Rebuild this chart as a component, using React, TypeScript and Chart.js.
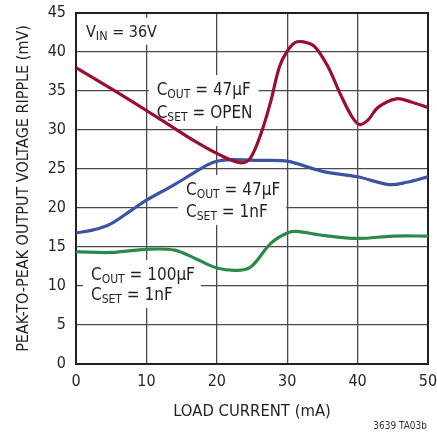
import React, { useEffect, useRef } from "react";
import { Chart, registerables } from "chart.js";

Chart.register(...registerables);

const FONT = "'DejaVu Sans Condensed', 'DejaVu Sans', sans-serif";

// COUT = 47µF, CSET = OPEN
const openX = [0, 5, 10, 14, 17, 20, 23.3, 24.7, 26.3, 27.7, 28.9, 30, 31.1, 32.3, 33.9, 35.8, 37.5, 39.2, 40.3, 41.5, 42.9, 45.5, 47.6, 50];
const openY = [38, 35.3, 32.5, 30.2, 28.5, 27, 25.8, 26.3, 29.6, 33.8, 38.1, 40.1, 41.2, 41.3, 40.7, 38.1, 34.7, 31.7, 30.7, 31.3, 32.9, 34, 33.6, 32.9];

// COUT = 47µF, CSET = 1nF
const c47X = [0, 2.5, 4.8, 7.7, 10, 13.8, 16.2, 18.6, 20, 22, 26, 30, 35, 40, 44.5, 47, 50];
const c47Y = [16.8, 17.2, 17.9, 19.6, 21, 22.9, 24.2, 25.5, 26, 26.2, 26.1, 26, 24.7, 24, 23, 23.3, 24];

// COUT = 100µF, CSET = 1nF
const c100X = [0, 5, 10, 14, 17, 20, 23, 24.9, 27.7, 30, 31.3, 35, 40, 45, 50];
const c100Y = [14.4, 14.3, 14.7, 14.6, 13.5, 12.3, 12, 12.5, 15.5, 16.8, 17, 16.5, 16.1, 16.4, 16.4];

const X_MIN = 0, X_MAX = 50, X_STEP = 10;
const Y_MIN = 0, Y_MAX = 45, Y_STEP = 5;

const X_TITLE = "LOAD CURRENT (mA)";
const Y_TITLE = "PEAK-TO-PEAK OUTPUT VOLTAGE RIPPLE (mV)";
const FOOT = "3639 TA03b";

const RED = "#9a0f30";
const BLUE = "#3a53a3";
const GREEN = "#2b8a48";
const INK = "#231f20";

type Seg = [string, string, string];
type Label = { x: number; y: number; size: number; sub: number; gap: number; lines: Seg[] };

const LABELS: Label[] = [
  { x: 1.42, y: 41.96, size: 16, sub: 12.5, gap: 22, lines: [["V", "IN", " = 36V"]] },
  { x: 11.46, y: 34.49, size: 17, sub: 12, gap: 23, lines: [["C", "OUT", " = 47µF"], ["C", "SET", " = OPEN"]] },
  { x: 15.63, y: 21.67, size: 17, sub: 12, gap: 22, lines: [["C", "OUT", " = 47µF"], ["C", "SET", " = 1nF"]] },
  { x: 2.13, y: 10.77, size: 17, sub: 12, gap: 20, lines: [["C", "OUT", " = 100µF"], ["C", "SET", " = 1nF"]] },
];

const pts = (xs: number[], ys: number[]) => xs.map((x, i) => ({ x, y: ys[i] }));

const annotPlugin = {
  id: "annot",
  beforeDatasetsDraw(chart: any) {
    const { ctx, chartArea, scales } = chart;
    const xs = scales.x, ys = scales.y;
    ctx.save();
    for (const lab of LABELS) {
      const px = xs.getPixelForValue(lab.x);
      const py = ys.getPixelForValue(lab.y);
      const widths = lab.lines.map(([a, b, c]) => {
        ctx.font = `${lab.size}px ${FONT}`;
        const wa = ctx.measureText(a).width;
        const wc = ctx.measureText(c).width;
        ctx.font = `${lab.sub}px ${FONT}`;
        const wb = ctx.measureText(b).width;
        return wa + wb + wc;
      });
      const maxW = Math.max(...widths);
      let left = px - 8;
      let top = py - lab.size - 3;
      const bottom = py + (lab.lines.length - 1) * lab.gap + 8;
      left = Math.max(left, chartArea.left);
      top = Math.max(top, chartArea.top);
      ctx.fillStyle = "#ffffff";
      ctx.fillRect(left, top, px + maxW + 6 - left, bottom - top);
      ctx.fillStyle = INK;
      ctx.textBaseline = "alphabetic";
      ctx.textAlign = "left";
      lab.lines.forEach(([a, b, c], i) => {
        const by = py + i * lab.gap;
        let cx = px;
        ctx.font = `${lab.size}px ${FONT}`;
        ctx.fillText(a, cx, by);
        cx += ctx.measureText(a).width;
        ctx.font = `${lab.sub}px ${FONT}`;
        ctx.fillText(b, cx, by + 3);
        cx += ctx.measureText(b).width;
        ctx.font = `${lab.size}px ${FONT}`;
        ctx.fillText(c, cx, by);
      });
    }
    ctx.strokeStyle = INK;
    ctx.lineWidth = 2;
    ctx.strokeRect(chartArea.left, chartArea.top, chartArea.right - chartArea.left, chartArea.bottom - chartArea.top);
    ctx.restore();
  },
  afterDraw(chart: any) {
    const { ctx } = chart;
    ctx.save();
    ctx.font = `10px ${FONT}`;
    ctx.fillStyle = "#333333";
    ctx.textAlign = "right";
    ctx.textBaseline = "alphabetic";
    ctx.fillText(FOOT, 427, 429);
    ctx.restore();
  },
};

export default function App() {
  const ref = useRef<HTMLCanvasElement>(null);
  useEffect(() => {
    if (!ref.current) return;
    const ds = (data: any, color: string) => ({
      data,
      borderColor: color,
      backgroundColor: color,
      borderWidth: 3.2,
      pointRadius: 0,
      tension: 0.35,
      fill: false,
    });
    const chart = new Chart(ref.current, {
      type: "line",
      data: {
        datasets: [
          ds(pts(openX, openY), RED),
          ds(pts(c47X, c47Y), BLUE),
          ds(pts(c100X, c100Y), GREEN),
        ],
      },
      options: {
        responsive: false,
        animation: false,
        layout: { padding: { top: 13, right: 9, left: 0, bottom: 0 } },
        plugins: { legend: { display: false }, tooltip: { enabled: false } },
        scales: {
          x: {
            type: "linear",
            min: X_MIN,
            max: X_MAX,
            ticks: { stepSize: X_STEP, color: INK, font: { family: FONT, size: 16 }, padding: 8, maxRotation: 0 },
            grid: { color: "#4a4a4a", lineWidth: 1.3, drawTicks: false },
            border: { display: false },
            title: { display: true, text: X_TITLE, color: INK, font: { family: FONT, size: 16.5 }, padding: { top: 0, bottom: 10 } },
            afterFit: (s: any) => { s.height = 68; s.paddingLeft = 0; s.paddingRight = 0; },
          },
          y: {
            type: "linear",
            min: Y_MIN,
            max: Y_MAX,
            ticks: { stepSize: Y_STEP, color: INK, font: { family: FONT, size: 16 }, padding: 10 },
            grid: { color: "#4a4a4a", lineWidth: 1.3, drawTicks: false },
            border: { display: false },
            title: { display: true, text: Y_TITLE, color: INK, font: { family: FONT, size: 16 }, padding: { top: 14, bottom: 0 } },
            afterFit: (s: any) => { s.width = 76; s.paddingTop = 0; s.paddingBottom = 0; },
          },
        },
      },
      plugins: [annotPlugin],
    });
    return () => chart.destroy();
  }, []);
  return (
    <div style={{ position: "fixed", left: 0, top: 0, width: 437, height: 432, background: "#fff" }}>
      <canvas ref={ref} width={437} height={432} style={{ display: "block" }} />
    </div>
  );
}
